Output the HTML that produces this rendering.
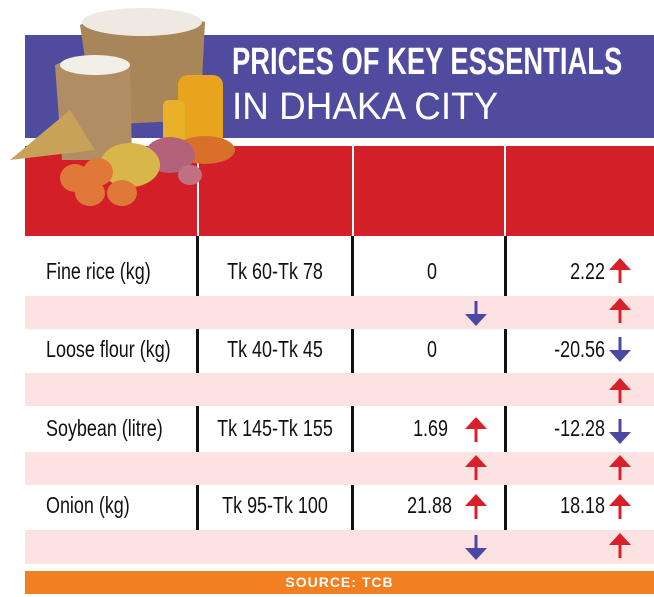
<!DOCTYPE html>
<html><head><meta charset="utf-8"><style>
*{margin:0;padding:0;box-sizing:border-box}
body{width:654px;height:597px;background:#fff;position:relative;overflow:hidden;font-family:"Liberation Sans",sans-serif}
.a{position:absolute}
.t{position:absolute;font-size:23px;color:#111;white-space:nowrap;transform:scaleX(0.78)}
.l{transform-origin:left center}
.c{width:200px;text-align:center;transform-origin:center center}
.r{width:200px;text-align:right;transform-origin:right center}
.vl{position:absolute;width:3px;background:#111}
</style></head><body>
<div class="a" style="left:25px;top:35px;width:629px;height:103px;background:#4f4ca0"></div>
<div class="a" style="left:232px;top:41px;font-size:38px;font-weight:bold;color:#fff;white-space:nowrap;transform:scaleX(0.72);transform-origin:left top">PRICES OF KEY ESSENTIALS</div>
<div class="a" style="left:232px;top:86px;font-size:38px;color:#fff;white-space:nowrap;transform:scaleX(0.97);transform-origin:left top">IN DHAKA CITY</div>
<div class="a" style="left:25px;top:146px;width:629px;height:90px;background:#d21f28"></div>
<div class="a" style="left:197px;top:146px;width:2px;height:90px;background:#fff"></div>
<div class="a" style="left:352px;top:146px;width:2px;height:90px;background:#fff"></div>
<div class="a" style="left:504px;top:146px;width:2px;height:90px;background:#fff"></div>
<svg class="a" style="left:0;top:0" width="240" height="210">
<path d="M80 25 Q130 0 205 22 L200 120 L95 125 Z" fill="#a9865a"/>
<ellipse cx="142" cy="22" rx="60" ry="14" fill="#eeeae2"/>
<path d="M55 65 Q90 50 130 62 L132 160 L62 160 Z" fill="#b08d62"/>
<ellipse cx="95" cy="65" rx="35" ry="10" fill="#f2efe8"/>
<rect x="178" y="75" width="45" height="80" rx="10" fill="#e8a41f"/>
<rect x="163" y="100" width="22" height="55" rx="6" fill="#e9b02a"/>
<path d="M10 160 L70 110 L95 150 Z" fill="#c9a25a"/>
<ellipse cx="205" cy="150" rx="30" ry="14" fill="#d8702a"/>
<ellipse cx="170" cy="155" rx="25" ry="18" fill="#b4627a"/>
<ellipse cx="130" cy="165" rx="30" ry="22" fill="#d9b64a"/>
<ellipse cx="75" cy="178" rx="15" ry="14" fill="#e0783a"/>
<ellipse cx="98" cy="172" rx="15" ry="14" fill="#e0783a"/>
<ellipse cx="90" cy="193" rx="15" ry="13" fill="#e0783a"/>
<ellipse cx="122" cy="193" rx="15" ry="13" fill="#e0783a"/>
<ellipse cx="190" cy="175" rx="12" ry="10" fill="#c07080"/>
</svg>
<div class="a" style="left:25px;top:296px;width:629px;height:33px;background:#fce3e2"></div>
<div class="a" style="left:25px;top:373px;width:629px;height:33px;background:#fce3e2"></div>
<div class="a" style="left:25px;top:452px;width:629px;height:33px;background:#fce3e2"></div>
<div class="a" style="left:25px;top:530px;width:629px;height:34px;background:#fce3e2"></div>
<div class="vl" style="left:196px;top:236px;height:60px"></div><div class="vl" style="left:351px;top:236px;height:60px"></div><div class="vl" style="left:504px;top:236px;height:60px"></div>
<div class="vl" style="left:196px;top:329px;height:44px"></div><div class="vl" style="left:351px;top:329px;height:44px"></div><div class="vl" style="left:504px;top:329px;height:44px"></div>
<div class="vl" style="left:196px;top:406px;height:46px"></div><div class="vl" style="left:351px;top:406px;height:46px"></div><div class="vl" style="left:504px;top:406px;height:46px"></div>
<div class="vl" style="left:196px;top:485px;height:45px"></div><div class="vl" style="left:351px;top:485px;height:45px"></div><div class="vl" style="left:504px;top:485px;height:45px"></div>

<div class="t l" style="left:46px;top:258px">Fine rice (kg)</div>
<div class="t c" style="left:175px;top:258px">Tk 60-Tk 78</div>
<div class="t r" style="left:237px;top:258px">0</div>
<div class="t r" style="left:405px;top:258px">2.22</div>
<div class="t l" style="left:46px;top:336px">Loose flour (kg)</div>
<div class="t c" style="left:175px;top:336px">Tk 40-Tk 45</div>
<div class="t r" style="left:237px;top:336px">0</div>
<div class="t r" style="left:405px;top:336px">-20.56</div>
<div class="t l" style="left:46px;top:415px">Soybean (litre)</div>
<div class="t c" style="left:175px;top:415px">Tk 145-Tk 155</div>
<div class="t r" style="left:248px;top:415px">1.69</div>
<div class="t r" style="left:405px;top:415px">-12.28</div>
<div class="t l" style="left:46px;top:492px">Onion (kg)</div>
<div class="t c" style="left:175px;top:492px">Tk 95-Tk 100</div>
<div class="t r" style="left:252px;top:492px">21.88</div>
<div class="t r" style="left:405px;top:492px">18.18</div>
<svg class="a" style="left:0;top:0" width="654" height="597">
<defs>
<g id="up"><path d="M-11 0 L0 -12 L11 0 Z" fill="#d8202a"/><rect x="-1.5" y="-1" width="3" height="14" fill="#d8202a"/></g>
<g id="dn"><path d="M-11 0 L0 12 L11 0 Z" fill="#4b47a6"/><rect x="-1.5" y="-13" width="3" height="14" fill="#4b47a6"/></g>
</defs>
<use href="#up" x="620" y="270"/>
<use href="#dn" x="476" y="314"/><use href="#up" x="620" y="310"/>
<use href="#dn" x="620" y="350"/>
<use href="#up" x="620" y="390"/>
<use href="#up" x="476" y="429"/><use href="#dn" x="620" y="432"/>
<use href="#up" x="476" y="467"/><use href="#up" x="620" y="467"/>
<use href="#up" x="476" y="506"/><use href="#up" x="620" y="506"/>
<use href="#dn" x="476" y="548"/><use href="#up" x="620" y="545"/>
</svg>
<div class="a" style="left:25px;top:571px;width:629px;height:23px;background:#f27f22;color:#fff;font-weight:bold;font-size:14px;letter-spacing:1px;text-align:center;line-height:23px">SOURCE: TCB</div>
</body></html>
